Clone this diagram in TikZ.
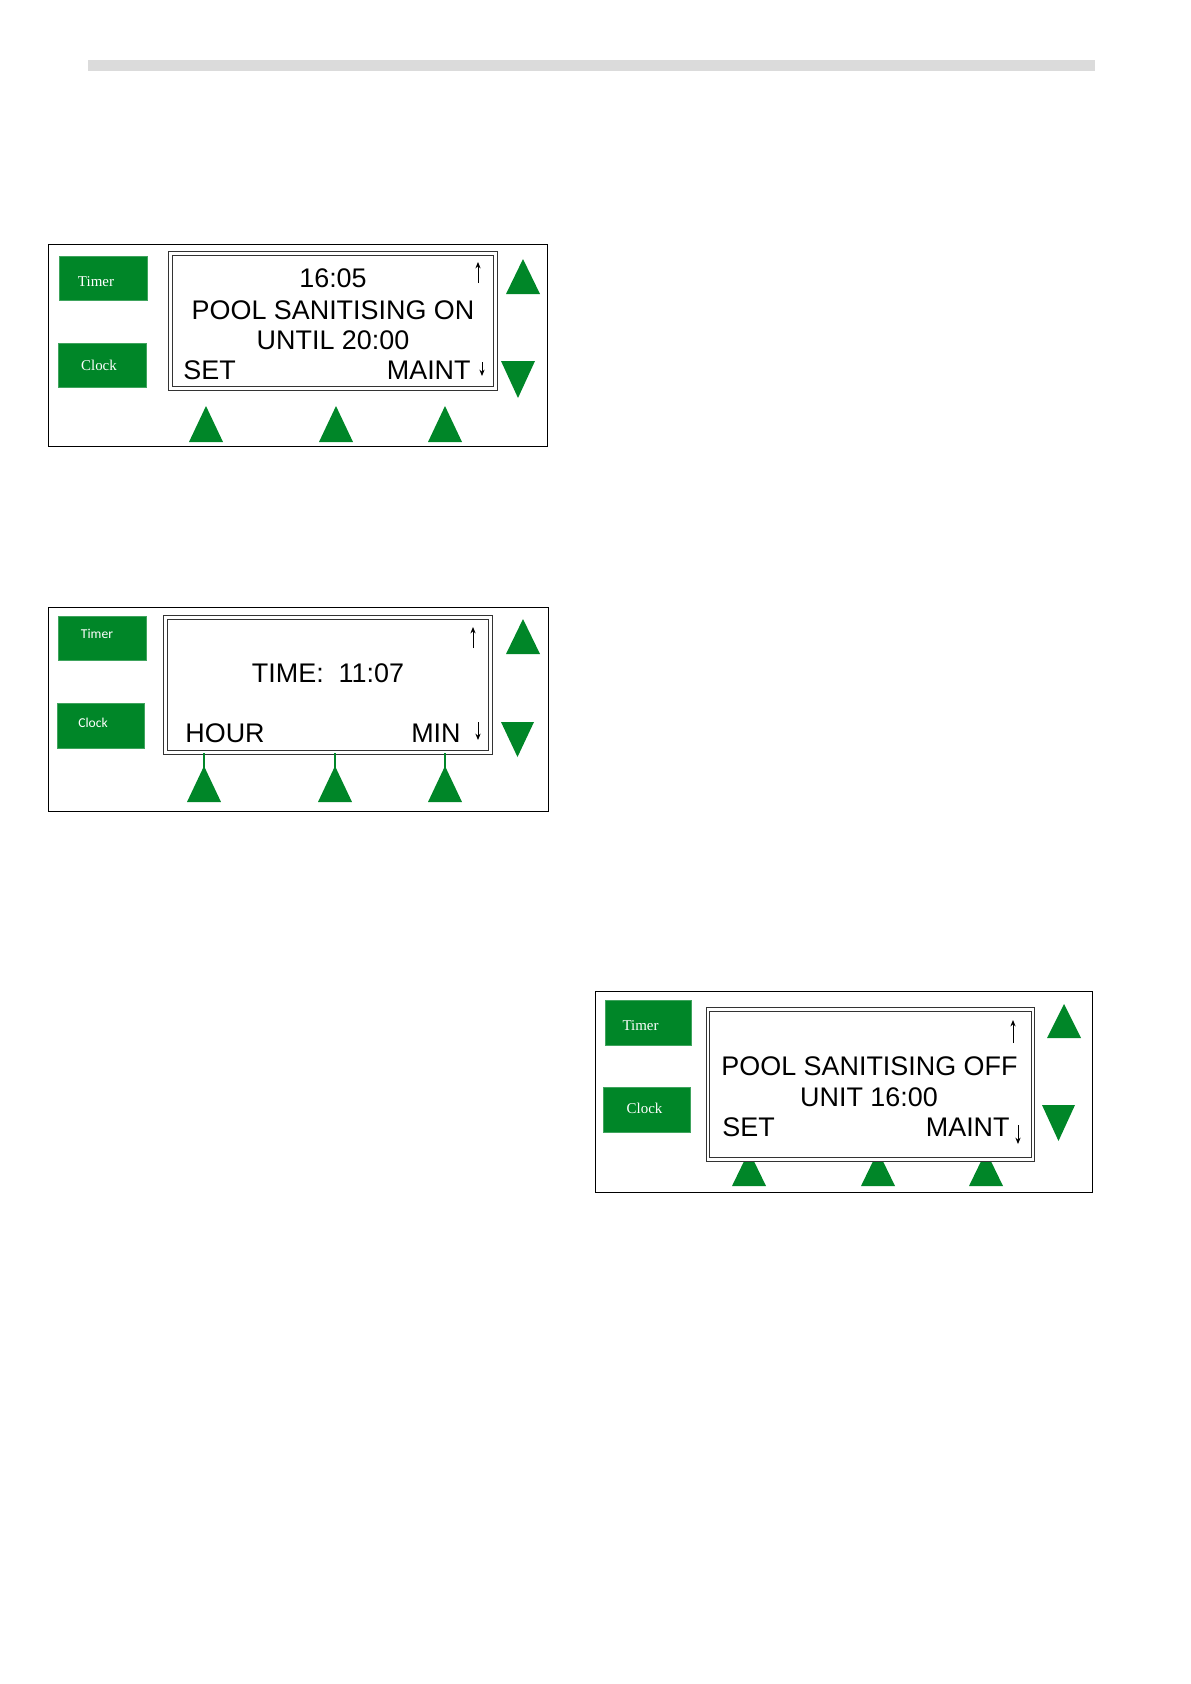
\documentclass[tikz,border=0pt]{standalone}
\usepackage{fontspec}
\setmainfont{Liberation Sans}
\newfontfamily\keyserif{Liberation Serif}
\newfontfamily\keysans{Carlito}
\usepackage{tikz}
\usetikzlibrary{arrows.meta, positioning, calc}
\definecolor{keygreen}{RGB}{0,134,40}
\newcommand{\pu}{0.1763mm}

\begin{document}
\begin{tikzpicture}[
        x=\pu, y=-\pu,
        panel/.style={rectangle, draw, line width=0.14mm, inner sep=0pt, minimum width=499*\pu, minimum height=202*\pu},
        lcdbox/.style={rectangle, draw=black!80, double=white, double distance=0.45mm, line width=0.18mm, fill=white, inner sep=0pt, minimum width=325*\pu, minimum height=135*\pu},
        keybox/.style={rectangle, fill=keygreen, draw=keygreen!75!white, line width=0.15mm, inner sep=0pt, minimum width=88*\pu, minimum height=44*\pu},
        keytext/.style={text=white, inner sep=0pt},
        lcd/.style={font=\fontsize{13.5}{16}\selectfont, inner sep=0pt},
        tick/.style={-{Stealth[length=3.2pt, width=2.6pt]}, line width=0.5pt},
        stem/.style={keygreen, line width=0.9pt}
    ]
        \useasboundingbox (0,0) rectangle (1191,1684);
        \fill[black!14] (88,60) rectangle (1095,71);

        % first screen
        \node[panel] (panelA) at (297.5,345) {};
        \node[keybox] (timerA) at (103,278) {};
        \node[keytext, font=\keyserif\fontsize{7.5}{9}\selectfont] at (96,282) {Timer};
        \node[keybox] (clockA) at (102,365.5) {};
        \node[keytext, font=\keyserif\fontsize{7.5}{9}\selectfont] at (99,365) {Clock};
        \node[lcdbox] (dispA) at (333,321) {};
        \node[lcd] (timeA) at (333,278) {16:05};
        \node[lcd] (stateA) at (333,310) {POOL SANITISING ON};
        \node[lcd] (untilA) at (333,340) {UNTIL 20:00};
        \node[lcd, anchor=west] (setA) at (183,370) {SET};
        \node[lcd, anchor=east] (maintA) at (471,370) {MAINT};
        \draw[tick] (478,283) -- (478,262);
        \draw[tick] (482,362) -- (482,376);
        \fill[keygreen] (523,259) -- (540,294) -- (506,294) -- cycle;
        \fill[keygreen] (518,398) -- (535,361) -- (501,361) -- cycle;
        \foreach \ax in {206,336,445}
            \fill[keygreen] (\ax,406) -- (\ax+17,442) -- (\ax-17,442) -- cycle;

        % second screen
        \node[panel, minimum width=500*\pu, minimum height=204*\pu] (panelB) at (298,709) {};
        \node[keybox] (timerB) at (102,638) {};
        \node[keytext, font=\keysans\fontsize{6.8}{8}\selectfont] at (97,634) {Timer};
        \node[keybox, minimum width=87*\pu, minimum height=45*\pu] (clockB) at (100.5,725.5) {};
        \node[keytext, font=\keysans\fontsize{6.8}{8}\selectfont] at (93,723) {Clock};
        \node[lcdbox] (dispB) at (328,685) {};
        \node[lcd] (timeB) at (328,673) {TIME:\ \ 11:07};
        \node[lcd, anchor=west] (hourB) at (185,733) {HOUR};
        \node[lcd, anchor=east] (minB) at (461,733) {MIN};
        \draw[tick] (473,648) -- (473,627);
        \draw[tick] (478,722) -- (478,740);
        \fill[keygreen] (523,619) -- (540,654) -- (506,654) -- cycle;
        \fill[keygreen] (517.5,757) -- (534,722) -- (501,722) -- cycle;
        \foreach \ax in {204,335,445} {
            \draw[stem] (\ax,0 |- dispB.south) -- (\ax,768);
            \fill[keygreen] (\ax,766) -- (\ax+17,802) -- (\ax-17,802) -- cycle;
        }

        % third screen
        \node[panel, minimum width=497*\pu, minimum height=201*\pu] (panelC) at (843.5,1091.5) {};
        \node[keybox, minimum width=86*\pu, minimum height=45*\pu] (timerC) at (648,1022.5) {};
        \node[keytext, font=\keyserif\fontsize{7.5}{9}\selectfont] at (640.5,1026) {Timer};
        \node[keybox, minimum width=87*\pu, minimum height=45*\pu] (clockC) at (646.5,1109.5) {};
        \node[keytext, font=\keyserif\fontsize{7.5}{9}\selectfont] at (644.5,1108) {Clock};
        \foreach \ax in {749,878,986}
            \fill[keygreen] (\ax,1151) -- (\ax+17,1186) -- (\ax-17,1186) -- cycle;
        \node[lcdbox, minimum height=150*\pu] (dispC) at (870.5,1084.5) {};
        \node[lcd] (stateC) at (869.5,1066) {POOL SANITISING OFF};
        \node[lcd] (untilC) at (869,1097) {UNIT 16:00};
        \node[lcd, anchor=west] (setC) at (722,1127) {SET};
        \node[lcd, anchor=east] (maintC) at (1010,1127) {MAINT};
        \draw[tick] (1013,1043) -- (1013,1020);
        \draw[tick] (1018,1125) -- (1018,1144);
        \fill[keygreen] (1064,1004) -- (1081,1038) -- (1047,1038) -- cycle;
        \fill[keygreen] (1058.5,1141) -- (1075,1105) -- (1042,1105) -- cycle;
    \end{tikzpicture}
\end{document}
